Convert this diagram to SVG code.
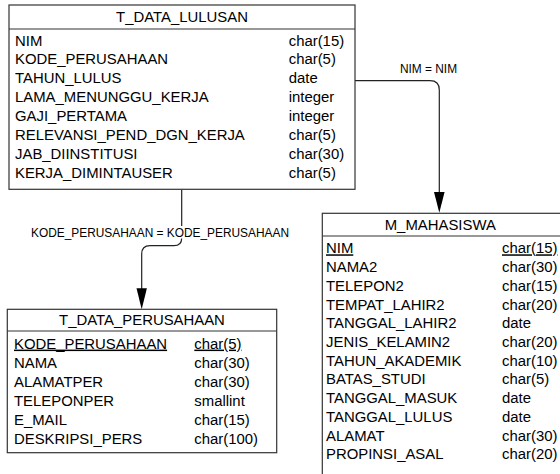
<svg xmlns="http://www.w3.org/2000/svg" width="560" height="474" viewBox="0 0 560 474">
  <style>
    .box { fill: #ffffff; stroke: #333333; stroke-width: 1.2; }
    .rule { stroke: #333333; stroke-width: 1.2; }
    .t { font-family: "Liberation Sans", Arial, sans-serif; font-size: 14.9px; fill: #000000; }
    .title { text-anchor: middle; }
    .pk { text-decoration: underline; }
    .conn { fill: none; stroke: #222222; stroke-width: 1.2; }
    .lbl { font-family: "Liberation Sans", Arial, sans-serif; font-size: 11.9px; fill: #000000; text-anchor: middle; }
    .head { fill: #000000; }
  </style>

  <rect width="560" height="474" fill="#ffffff"/>

  <!-- relationships -->
  <g id="connectors">
    <path class="conn" d="M355,80.7 H430 Q439.3,80.7 439.3,90 V192"/>
    <path class="head" d="M434,192 L444.6,192 L439.3,212.8 Z"/>
    <text class="lbl" x="428.5" y="72.5">NIM = NIM</text>

    <path class="conn" d="M181.7,189.3 V238 Q181.7,245.7 174,245.7 H150 Q141.7,245.7 141.7,254 V289"/>
    <path class="head" d="M136.5,288.3 L146.9,288.3 L141.7,309.3 Z"/>
    <rect x="30" y="226" width="260" height="12.5" fill="#ffffff"/>
    <text class="lbl" x="160" y="236.5">KODE_PERUSAHAAN = KODE_PERUSAHAAN</text>
  </g>

  <!-- graduate records table -->
  <g id="T_DATA_LULUSAN">
    <rect class="box" x="9" y="5" width="346" height="184.3"/>
    <line class="rule" x1="9" y1="29" x2="355" y2="29"/>
    <text class="t title" x="182" y="21.7">T_DATA_LULUSAN</text>
    <g class="t">
      <text x="15" y="45.5">NIM</text><text x="288.7" y="45.5">char(15)</text>
      <text x="15" y="64.4">KODE_PERUSAHAAN</text><text x="288.7" y="64.4">char(5)</text>
      <text x="15" y="83.3">TAHUN_LULUS</text><text x="288.7" y="83.3">date</text>
      <text x="15" y="102.2">LAMA_MENUNGGU_KERJA</text><text x="288.7" y="102.2">integer</text>
      <text x="15" y="121.1">GAJI_PERTAMA</text><text x="288.7" y="121.1">integer</text>
      <text x="15" y="140">RELEVANSI_PEND_DGN_KERJA</text><text x="288.7" y="140">char(5)</text>
      <text x="15" y="158.9">JAB_DIINSTITUSI</text><text x="288.7" y="158.9">char(30)</text>
      <text x="15" y="177.8">KERJA_DIMINTAUSER</text><text x="288.7" y="177.8">char(5)</text>
    </g>
  </g>

  <!-- company table -->
  <g id="T_DATA_PERUSAHAAN">
    <rect class="box" x="7.3" y="309.3" width="269.4" height="143.4"/>
    <line class="rule" x1="7.3" y1="331" x2="276.7" y2="331"/>
    <text class="t title" x="142" y="325.3">T_DATA_PERUSAHAAN</text>
    <g class="t">
      <text class="pk" x="14" y="348.6">KODE_PERUSAHAAN</text><text class="pk" x="194.3" y="348.6">char(5)</text>
      <text x="14" y="367.6">NAMA</text><text x="194.3" y="367.6">char(30)</text>
      <text x="14" y="386.6">ALAMATPER</text><text x="194.3" y="386.6">char(30)</text>
      <text x="14" y="405.6">TELEPONPER</text><text x="194.3" y="405.6">smallint</text>
      <text x="14" y="424.6">E_MAIL</text><text x="194.3" y="424.6">char(15)</text>
      <text x="14" y="443.6">DESKRIPSI_PERS</text><text x="194.3" y="443.6">char(100)</text>
    </g>
  </g>

  <!-- student master table (runs past the right and bottom edges) -->
  <g id="M_MAHASISWA">
    <rect class="box" x="322.3" y="213.3" width="250" height="275"/>
    <line class="rule" x1="322.3" y1="236" x2="572" y2="236"/>
    <text class="t title" x="440.3" y="230.2">M_MAHASISWA</text>
    <g class="t">
      <text class="pk" x="326" y="253.3">NIM</text><text class="pk" x="502" y="253.3">char(15)</text>
      <text x="326" y="272">NAMA2</text><text x="502" y="272">char(30)</text>
      <text x="326" y="290.8">TELEPON2</text><text x="502" y="290.8">char(15)</text>
      <text x="326" y="309.5">TEMPAT_LAHIR2</text><text x="502" y="309.5">char(20)</text>
      <text x="326" y="328.2">TANGGAL_LAHIR2</text><text x="502" y="328.2">date</text>
      <text x="326" y="347">JENIS_KELAMIN2</text><text x="502" y="347">char(20)</text>
      <text x="326" y="365.7">TAHUN_AKADEMIK</text><text x="502" y="365.7">char(10)</text>
      <text x="326" y="384.4">BATAS_STUDI</text><text x="502" y="384.4">char(5)</text>
      <text x="326" y="403.1">TANGGAL_MASUK</text><text x="502" y="403.1">date</text>
      <text x="326" y="421.9">TANGGAL_LULUS</text><text x="502" y="421.9">date</text>
      <text x="326" y="440.6">ALAMAT</text><text x="502" y="440.6">char(30)</text>
      <text x="326" y="459.3">PROPINSI_ASAL</text><text x="502" y="459.3">char(20)</text>
    </g>
  </g>
</svg>
